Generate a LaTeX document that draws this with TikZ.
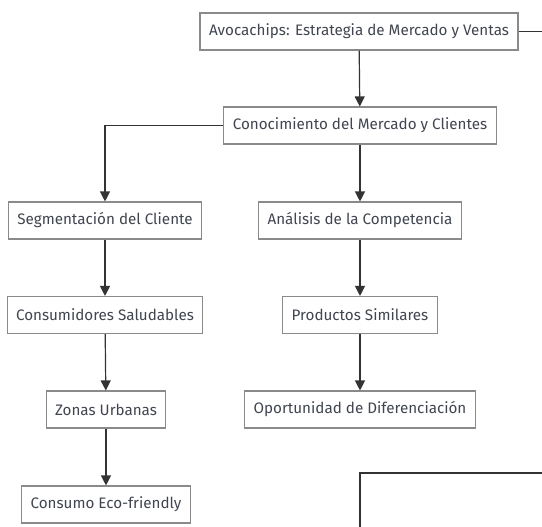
\documentclass[tikz,border=0pt]{standalone}
\usepackage{fontspec}
\setmainfont{Fira Sans}
\usetikzlibrary{arrows.meta}
\definecolor{boxline}{HTML}{8A8A8A}
\definecolor{boxtext}{HTML}{404550}
\definecolor{edgeline}{HTML}{333333}
\tikzset{
    topic/.style={draw=boxline, fill=white, line width=1.1pt, text=boxtext,
        font=\fontsize{15.2}{17}\selectfont, minimum height=37pt, inner xsep=9pt},
    link/.style={draw=edgeline, line width=1.2pt, -{Triangle[length=10pt,width=10pt]}},
    stub/.style={draw=edgeline, line width=1.2pt}
}
\begin{document}
\begin{tikzpicture}[x=1pt, y=-1pt]
    \useasboundingbox (0,0) rectangle (542,527);

    % main column
    \node[topic] (avo) at (359,31.5) {Avocachips: Estrategia de Mercado y Ventas};
    \node[topic] (con) at (360,125.5) {Conocimiento del Mercado y Clientes};

    % left branch
    \node[topic] (seg) at (105,220.5) {Segmentación del Cliente};
    \node[topic] (sal) at (105,315) {Consumidores Saludables};
    \node[topic] (urb) at (106,409.5) {Zonas Urbanas};
    \node[topic] (eco) at (106,504.5) {Consumo Eco-friendly};

    % right branch
    \node[topic] (com) at (360,220.5) {Análisis de la Competencia};
    \node[topic] (sim) at (360,315) {Productos Similares};
    \node[topic] (dif) at (360,409.5) {Oportunidad de Diferenciación};

    \draw[link] (avo) -- (con);
    \draw[link] (con.west) -| (seg.north);
    \draw[link] (seg) -- (sal);
    \draw[link] (sal) -- (urb);
    \draw[link] (urb) -- (eco);
    \draw[link] (con) -- (com);
    \draw[link] (com) -- (sim);
    \draw[link] (sim) -- (dif);

    % edges leaving the frame
    \coordinate (out1) at (542,31.5);
    \coordinate (out2) at (542,473);
    \coordinate (out3) at (360,527);
    \draw[stub] (avo.east) -- (out1);
    \draw[stub] (out3) |- (out2);
\end{tikzpicture}
\end{document}
